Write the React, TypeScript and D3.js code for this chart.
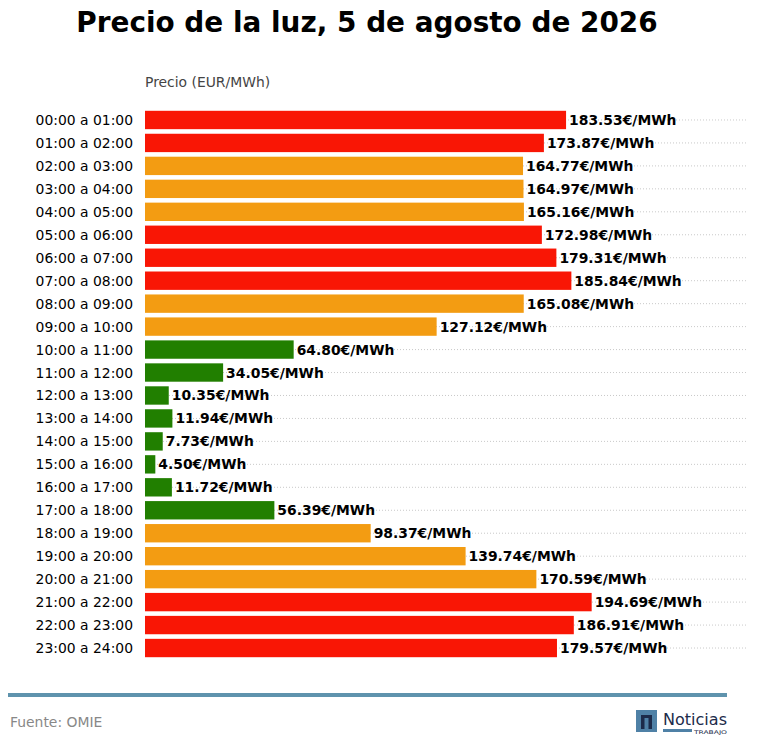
import React from "react";
import * as d3 from "d3";

const hours = [
  "00:00 a 01:00", "01:00 a 02:00", "02:00 a 03:00", "03:00 a 04:00",
  "04:00 a 05:00", "05:00 a 06:00", "06:00 a 07:00", "07:00 a 08:00",
  "08:00 a 09:00", "09:00 a 10:00", "10:00 a 11:00", "11:00 a 12:00",
  "12:00 a 13:00", "13:00 a 14:00", "14:00 a 15:00", "15:00 a 16:00",
  "16:00 a 17:00", "17:00 a 18:00", "18:00 a 19:00", "19:00 a 20:00",
  "20:00 a 21:00", "21:00 a 22:00", "22:00 a 23:00", "23:00 a 24:00",
];
const prices = [
  183.53, 173.87, 164.77, 164.97, 165.16, 172.98, 179.31, 185.84,
  165.08, 127.12, 64.8, 34.05, 10.35, 11.94, 7.73, 4.5,
  11.72, 56.39, 98.37, 139.74, 170.59, 194.69, 186.91, 179.57,
];
const levels = [
  "alto", "alto", "medio", "medio", "medio", "alto", "alto", "alto",
  "medio", "medio", "bajo", "bajo", "bajo", "bajo", "bajo", "bajo",
  "bajo", "bajo", "medio", "medio", "medio", "alto", "alto", "alto",
];
const levelColors: Record<string, string> = {
  alto: "#f91605",
  medio: "#f39c12",
  bajo: "#217f00",
};

const W = 758;
const H = 755;
const FS = 13.9;

export default function App() {
  const x0 = 145;
  const x1 = 748;
  const x = d3.scaleLinear().domain([0, d3.max(prices)! * 1.35]).range([x0, x1]);
  const y = d3.scaleBand<string>().domain(hours).range([108.5, 659.5]).paddingInner(0.2).paddingOuter(0.1);
  const bw = y.bandwidth();
  return (
    <>
      <style>{"body{margin:0}"}</style>
      <svg width={W} height={H} style={{ display: "block", fontFamily: "DejaVu Sans, sans-serif" }}>
        <rect width={W} height={H} fill="#fff" />
        <text x={367} y={32} textAnchor="middle" fontSize={27.9} fontWeight="bold" fill="#000">
          Precio de la luz, 5 de agosto de 2026
        </text>
        <text x={x0} y={87} fontSize={FS} fill="#444">Precio (EUR/MWh)</text>
        {hours.map((h) => (
          <line key={"g" + h} x1={x0} x2={x1} y1={y(h)! + bw / 2} y2={y(h)! + bw / 2}
            stroke="#bbb" strokeWidth={0.8} strokeDasharray="1,2" />
        ))}
        {hours.map((h, i) => (
          <g key={h}>
            <rect x={x(0)} y={y(h)} width={x(prices[i]) - x(0)} height={bw} fill={levelColors[levels[i]]} />
            <text x={133} y={y(h)! + bw / 2 + 5} textAnchor="end" fontSize={FS} fill="#000">{h}</text>
            <text x={x(prices[i]) + 3} y={y(h)! + bw / 2 + 5} fontSize={FS} fontWeight="bold" fill="#000">
              {prices[i].toFixed(2)}€/MWh
            </text>
          </g>
        ))}
        <line x1={8} x2={727} y1={695} y2={695} stroke="#5f93ad" strokeWidth={4} />
        <text x={10} y={727} fontSize={FS} fill="#888">Fuente: OMIE</text>
        <g>
          <rect x={636} y={710} width={21} height={22} fill="#4f81a6" />
          <path d="M641,729 V715 H652 V729 H648.5 V718 H644.5 V729 Z" fill="#1c2b4a" />
          <text x={663} y={725} fontSize={15} fill="#1c2b4a" fontFamily="DejaVu Sans Condensed, DejaVu Sans" textLength={64} lengthAdjust="spacingAndGlyphs">Noticias</text>
          <rect x={663} y={729} width={29} height={3} fill="#4f81a6" />
          <text x={694} y={734} fontSize={5} fill="#1c2b4a" textLength={33} lengthAdjust="spacingAndGlyphs">TRABAJO</text>
        </g>
      </svg>
    </>
  );
}
